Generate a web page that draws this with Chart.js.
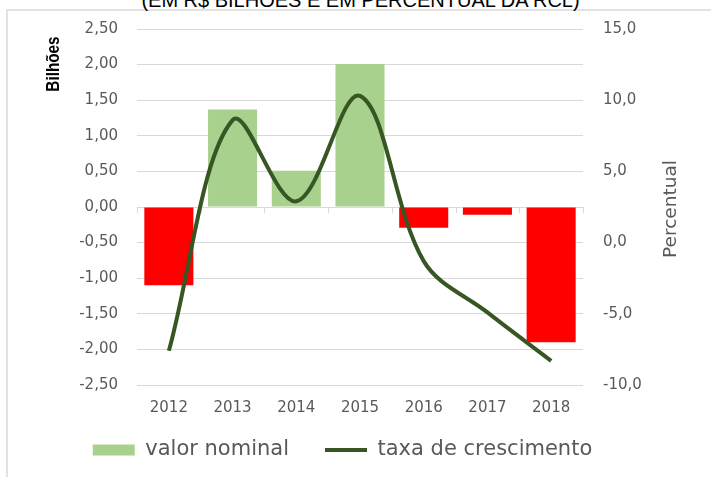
<!DOCTYPE html>
<html lang="pt-BR">
<head>
<meta charset="utf-8">
<title>Valor nominal e taxa de crescimento</title>
<script src="https://cdn.jsdelivr.net/npm/chart.js@4.4.1/dist/chart.umd.min.js"></script>
<style>
  html, body { margin: 0; padding: 0; width: 711px; height: 477px; overflow: hidden; background: #fff; }
  #moldura { position: absolute; left: 6px; top: 9px; width: 760px; height: 520px; border: 2px solid #e2e2e2; }
  #titulo { position: absolute; left: 0; top: -11px; width: 721px; line-height: 20px; text-align: center;
            font: 20px "Liberation Sans", Arial, sans-serif; color: #000; white-space: nowrap; }
  #grafico { position: absolute; left: 0; top: 0; }
</style>
</head>
<body>
<div id="moldura"></div>
<div id="titulo">(EM R$ BILHÕES E EM PERCENTUAL DA RCL)</div>
<canvas id="grafico" width="711" height="477"></canvas>
<script>
// dados
const anos = ['2012', '2013', '2014', '2015', '2016', '2017', '2018'];
const valorNominal = [-1.10, 1.37, 0.51, 2.01, -0.29, -0.11, -1.90];      // R$ bilhoes
const taxaCrescimento = [-7.6, 8.6, 2.9, 10.3, -1.3, -4.9, -8.3];          // % da RCL
const ticksBilhoes = [-2.5, 2.5, 0.5];   // min, max, passo
const ticksPercentual = [-10, 15, 5];

const verde = '#a9d18e';
const vermelho = '#ff0000';
const verdeEscuro = '#375623';
const corGrade = '#d9d9d9';
const corTexto = '#595959';
const fonte = '"DejaVu Sans", sans-serif';

// marcas do eixo na linha do zero, titulos dos eixos e ajuste da legenda
const extras = {
    id: 'extras',
    afterLayout(chart) {
        // sobe a legenda para perto dos anos (o padding grande so serve para afastar os itens)
        const lg = chart.legend;
        lg.top -= 14.5;
        lg.bottom -= 14.5;
    },
    beforeDatasetsDraw(chart) {
        const ctx = chart.ctx;
        const x = chart.scales.x;
        const y0 = chart.scales.y.getPixelForValue(0);
        ctx.save();
        ctx.strokeStyle = corGrade;
        ctx.lineWidth = 1;
        ctx.beginPath();
        for (let i = 0; i <= anos.length; i++) {
            let px;
            if (i === 0) px = x.left;
            else if (i === anos.length) px = x.right;
            else px = (x.getPixelForValue(i - 1) + x.getPixelForValue(i)) / 2;
            px = Math.round(px) + 0.5;
            ctx.moveTo(px, y0);
            ctx.lineTo(px, y0 + 6);
        }
        ctx.stroke();
        ctx.restore();
    },
    afterDraw(chart) {
        const ctx = chart.ctx;
        const area = chart.chartArea;
        ctx.save();
        ctx.textAlign = 'center';
        ctx.textBaseline = 'middle';

        // Bilhões (fonte estreita)
        ctx.save();
        ctx.translate(54, area.top + 35);
        ctx.rotate(-Math.PI / 2);
        ctx.scale(0.85, 1);
        ctx.fillStyle = '#000';
        ctx.font = 'bold 18px "Liberation Sans", sans-serif';
        ctx.fillText('Bilhões', 0, 0);
        ctx.restore();

        // Percentual
        ctx.save();
        ctx.translate(chart.scales.y1.left + 88, (area.top + area.bottom) / 2 + 2);
        ctx.rotate(-Math.PI / 2);
        ctx.fillStyle = corTexto;
        ctx.font = '18.5px ' + fonte;
        ctx.fillText('Percentual', 0, 0);
        ctx.restore();

        ctx.restore();
    }
};

new Chart(document.getElementById('grafico').getContext('2d'), {
    type: 'bar',
    data: {
        labels: anos,
        datasets: [
            {
                type: 'line',
                label: 'taxa de crescimento',
                data: taxaCrescimento,
                yAxisID: 'y1',
                borderColor: verdeEscuro,
                borderWidth: 4,
                pointRadius: 0,
                tension: 0.35,
                fill: false,
                order: 1
            },
            {
                label: 'valor nominal',
                data: valorNominal,
                yAxisID: 'y',
                backgroundColor: valorNominal.map(v => v >= 0 ? verde : vermelho),
                barPercentage: 0.77,
                categoryPercentage: 1,
                order: 2
            }
        ]
    },
    options: {
        responsive: false,
        animation: false,
        layout: { padding: { top: 29, right: 26, bottom: -8, left: 0 } },
        plugins: {
            title: { display: false },
            tooltip: { enabled: false },
            legend: {
                position: 'bottom',
                labels: {
                    usePointStyle: true,
                    pointStyleWidth: 42,
                    boxHeight: 11,
                    padding: 36,
                    color: corTexto,
                    font: { family: fonte, size: 21 },
                    generateLabels: () => [
                        { text: 'valor nominal', fillStyle: verde, strokeStyle: verde, lineWidth: 0, pointStyle: 'rect', fontColor: corTexto, datasetIndex: 1 },
                        { text: 'taxa de crescimento', fillStyle: verdeEscuro, strokeStyle: verdeEscuro, lineWidth: 4, pointStyle: 'line', fontColor: corTexto, datasetIndex: 0 }
                    ]
                }
            }
        },
        scales: {
            x: {
                grid: { display: false, drawTicks: false },
                border: { display: false },
                ticks: { color: corTexto, font: { family: fonte, size: 15 }, padding: 14, maxRotation: 0 },
                afterFit: s => { s.height = 33; }
            },
            y: {
                position: 'left',
                min: ticksBilhoes[0],
                max: ticksBilhoes[1],
                grid: { color: corGrade, lineWidth: 1, drawTicks: false },
                border: { display: false },
                ticks: {
                    stepSize: ticksBilhoes[2],
                    padding: 19,
                    color: corTexto,
                    font: { family: fonte, size: 15 },
                    callback: v => v.toFixed(2).replace('.', ',')
                },
                afterFit: s => { s.width = 137; }
            },
            y1: {
                position: 'right',
                min: ticksPercentual[0],
                max: ticksPercentual[1],
                grid: { display: false, drawTicks: false },
                border: { display: false },
                ticks: {
                    stepSize: ticksPercentual[2],
                    padding: 20,
                    color: corTexto,
                    font: { family: fonte, size: 15 },
                    callback: v => v.toFixed(1).replace('.', ',')
                },
                afterFit: s => { s.width = 102; }
            }
        }
    },
    plugins: [extras]
});
</script>
</body>
</html>
